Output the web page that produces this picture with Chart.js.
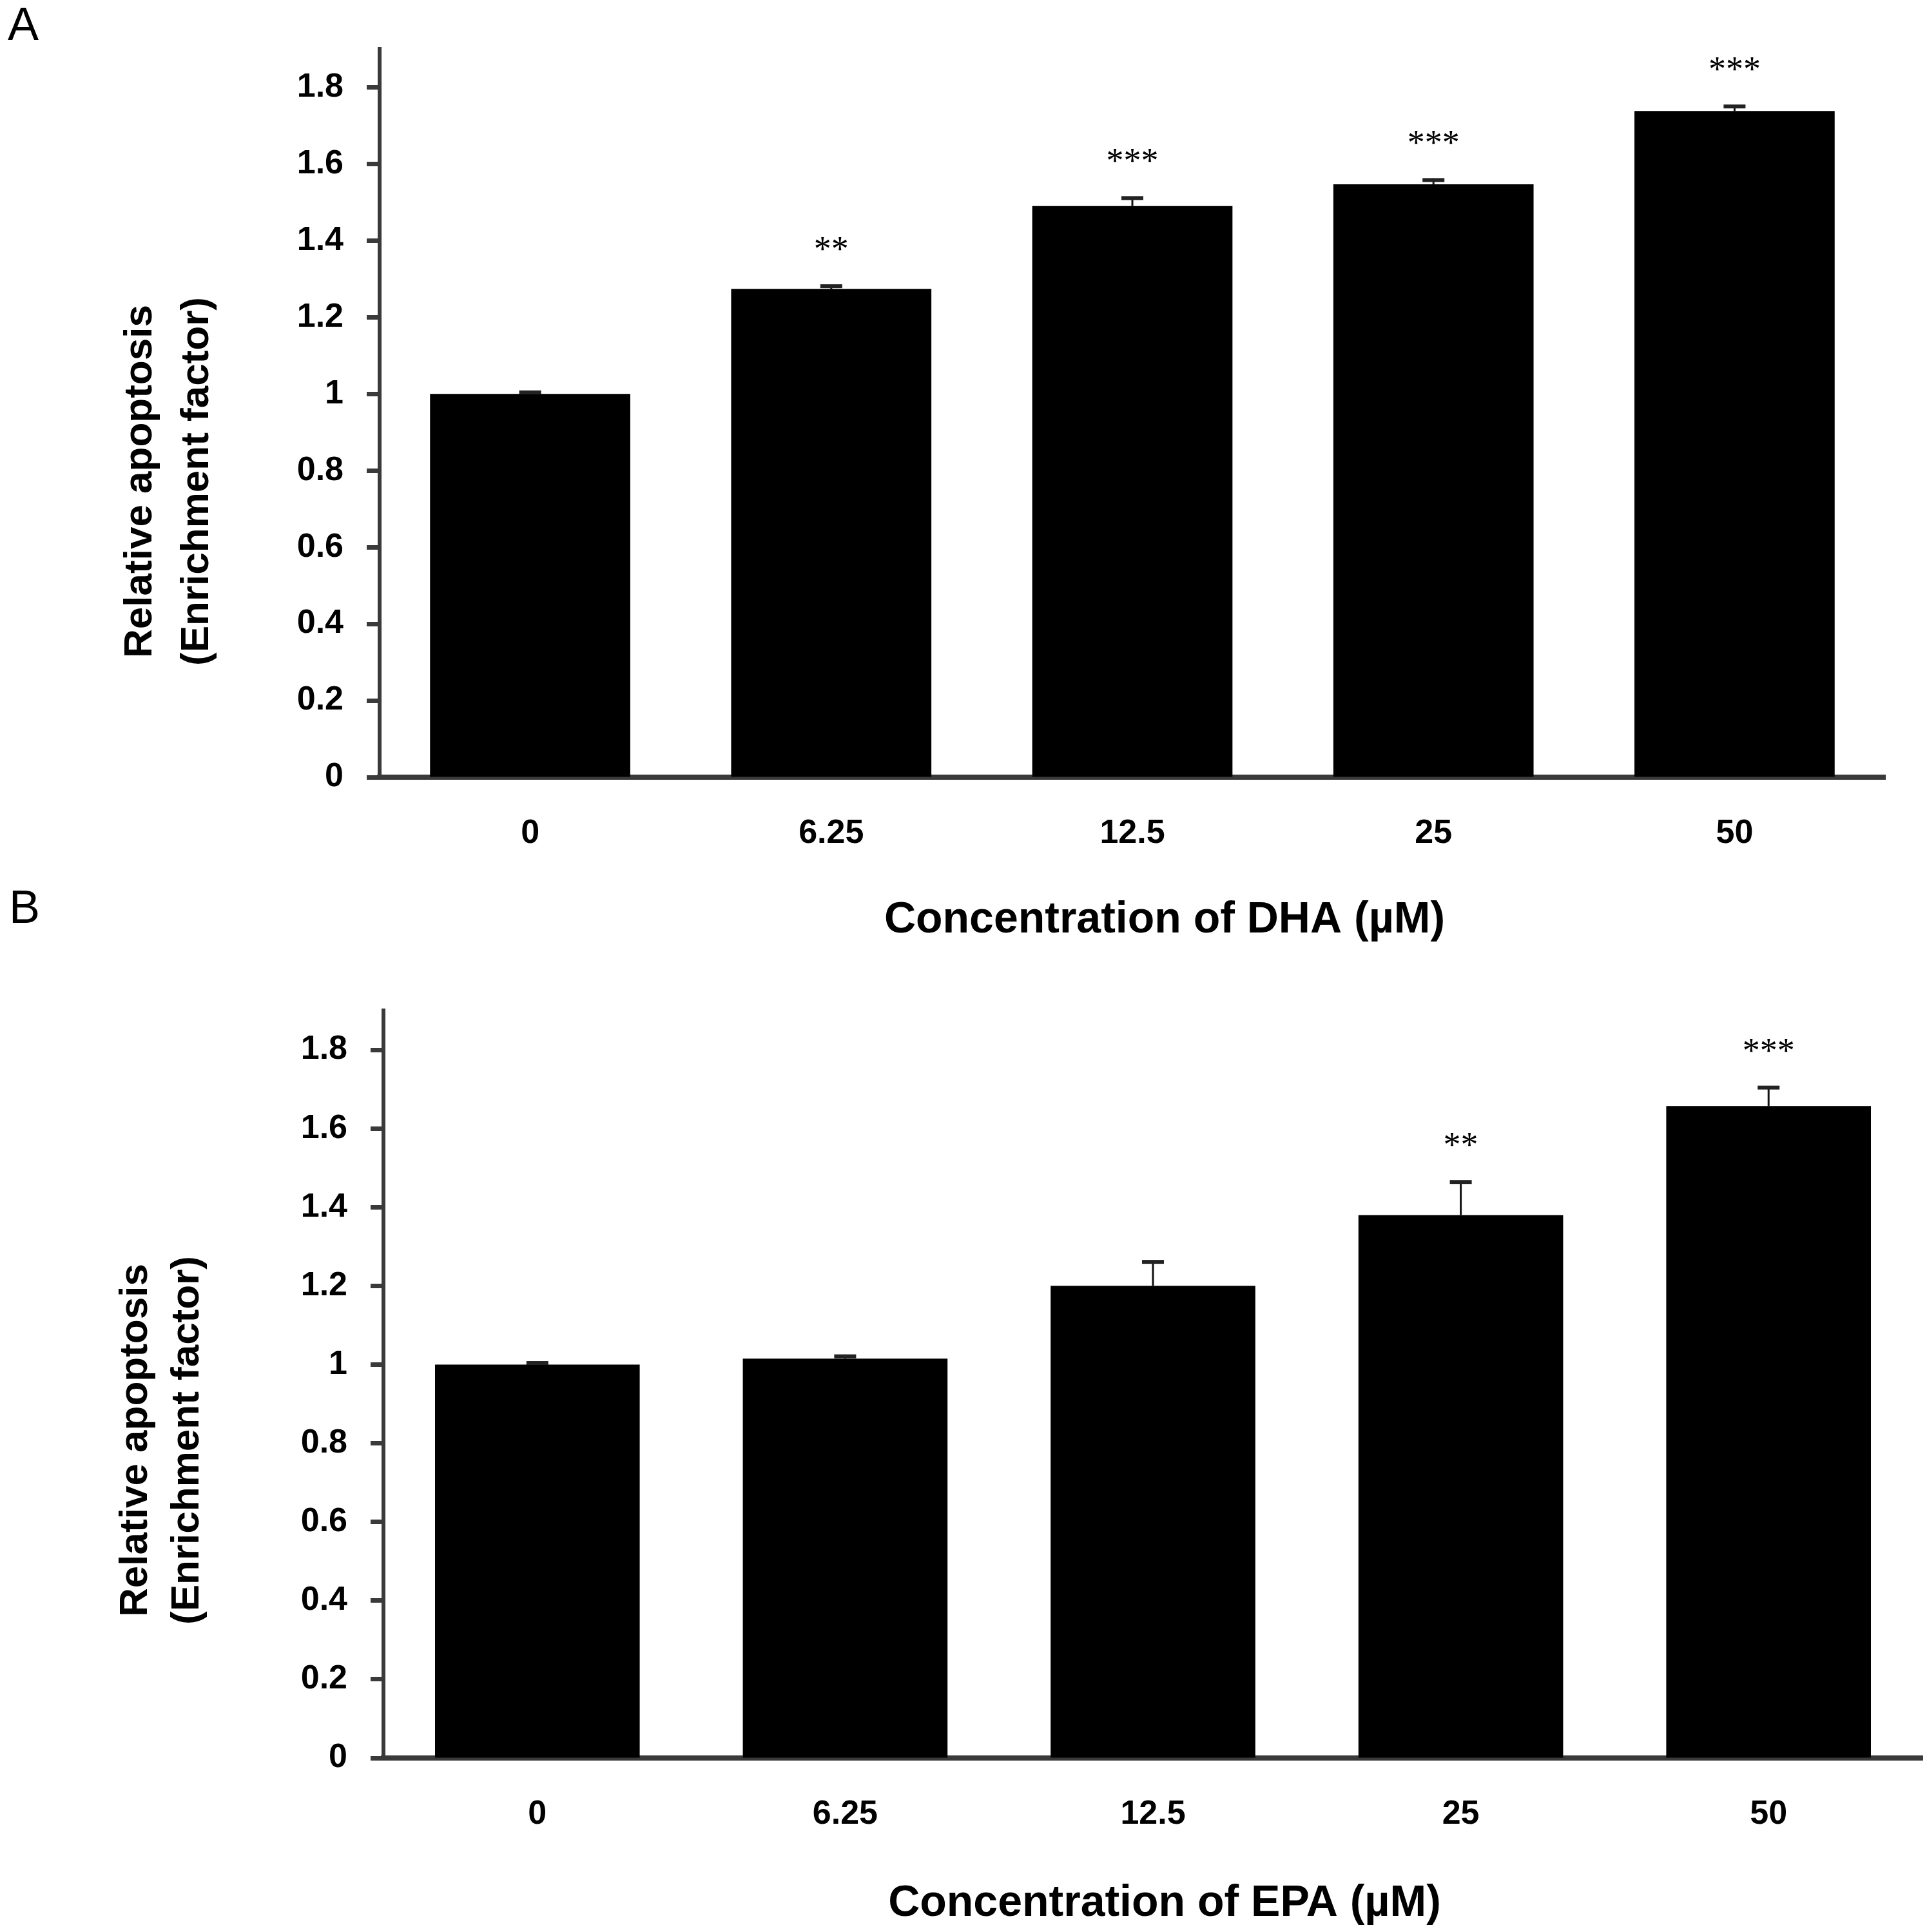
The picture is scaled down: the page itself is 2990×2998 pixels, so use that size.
<!DOCTYPE html>
<html lang="en">
<head>
    <meta charset="UTF-8">
    <title>Relative apoptosis - DHA / EPA</title>
    <script src="https://cdn.jsdelivr.net/npm/chart.js"></script>
    <style>
        body { margin: 0; background: #fff; }
        canvas { position: absolute; left: 0; top: 0; }
    </style>
</head>
<body>

<canvas id="chart-dha" width="2990" height="2998"></canvas>
<canvas id="chart-epa" width="2990" height="2998"></canvas>

<script>
    // concentrations (µM)
    const categories = ['0', '6.25', '12.5', '25', '50'];

    // panel A - DHA
    const dhaValues = [1.0, 1.274, 1.490, 1.547, 1.738];
    const dhaErrors = [0.004, 0.007, 0.021, 0.011, 0.012];
    const dhaStars = ['', '**', '***', '***', '***'];

    // panel B - EPA
    const epaValues = [1.0, 1.015, 1.200, 1.380, 1.657];
    const epaErrors = [0.004, 0.006, 0.061, 0.084, 0.047];
    const epaStars = ['', '', '', '**', '***'];

    const yMin = 0;
    const yMax = 1.9;
    const yStep = 0.2;

    const FONT = '"Liberation Sans", Arial, sans-serif';

    // error bars, significance stars, axis titles and panel letter
    const annotations = {
        id: 'annotations',
        afterDatasetsDraw(chart, args, opts) {
            const ctx = chart.ctx;
            const area = chart.chartArea;
            const yScale = chart.scales.y;
            const ds = chart.data.datasets[0];
            const meta = chart.getDatasetMeta(0);

            ctx.save();
            meta.data.forEach((bar, i) => {
                const top = yScale.getPixelForValue(ds.data[i] + ds.errors[i]);
                ctx.strokeStyle = '#111';
                ctx.lineWidth = 3;
                ctx.beginPath();
                ctx.moveTo(bar.x, bar.y);
                ctx.lineTo(bar.x, top);
                ctx.stroke();
                ctx.fillStyle = '#222';
                ctx.fillRect(bar.x - 17, top - 3, 34, 6);

                if (ds.stars[i]) {
                    ctx.fillStyle = '#000';
                    ctx.font = '54px "Liberation Serif", serif';
                    ctx.textAlign = 'center';
                    ctx.textBaseline = 'alphabetic';
                    ctx.fillText(ds.stars[i], bar.x, top - 40);
                }
            });

            // y title, two lines rotated
            ctx.fillStyle = '#000';
            ctx.font = 'bold 62px ' + FONT;
            ctx.textAlign = 'center';
            ctx.textBaseline = 'alphabetic';
            const cy = (area.top + area.bottom) / 2 + opts.yTitleDy;
            opts.yTitle.forEach((line, k) => {
                ctx.save();
                ctx.translate(area.left + opts.yTitleDx[k], cy);
                ctx.rotate(-Math.PI / 2);
                ctx.fillText(line, 0, 0);
                ctx.restore();
            });

            // x title
            ctx.font = 'bold 68px ' + FONT;
            ctx.textBaseline = 'middle';
            ctx.fillText(opts.xTitle, (area.left + area.right) / 2 + opts.xTitleDx, area.bottom + opts.xTitleDy);

            // panel letter
            ctx.font = '72px ' + FONT;
            ctx.textAlign = 'left';
            ctx.textBaseline = 'alphabetic';
            ctx.fillText(opts.letter, opts.letterX, opts.letterY);
            ctx.restore();
        }
    };

    function makeChart(id, values, errors, stars, pad, yWidth, text) {
        const ctx = document.getElementById(id).getContext('2d');
        return new Chart(ctx, {
            type: 'bar',
            data: {
                labels: categories,
                datasets: [{
                    data: values,
                    errors: errors,
                    stars: stars,
                    backgroundColor: '#000',
                    borderWidth: 0,
                    barPercentage: 0.665,
                    categoryPercentage: 1
                }]
            },
            options: {
                responsive: false,
                animation: false,
                layout: { padding: pad },
                plugins: {
                    legend: { display: false },
                    tooltip: { enabled: false },
                    annotations: text
                },
                scales: {
                    x: {
                        afterFit(scale) { scale.height = 200; },
                        grid: { display: false, drawTicks: false },
                        border: { color: '#3a3a3a', width: 8 },
                        ticks: {
                            color: '#000',
                            padding: 56,
                            font: { family: FONT, size: 52, weight: 'bold' }
                        }
                    },
                    y: {
                        min: yMin,
                        max: yMax,
                        afterFit(scale) { scale.width = yWidth; },
                        grid: { drawOnChartArea: false, tickLength: 20, tickWidth: 7, tickColor: '#3a3a3a' },
                        border: { color: '#3a3a3a', width: 6 },
                        ticks: {
                            stepSize: yStep,
                            includeBounds: false,
                            color: '#000',
                            padding: 36,
                            font: { family: FONT, size: 52, weight: 'bold' },
                            callback: v => String(parseFloat(v.toFixed(2)))
                        }
                    }
                }
            },
            plugins: [annotations]
        });
    }

    makeChart('chart-dha', dhaValues, dhaErrors, dhaStars,
        { left: 0, top: 76, right: 65, bottom: 1592 }, 589,
        {
            yTitle: ['Relative apoptosis', '(Enrichment factor)'],
            yTitleDx: [-354, -266], yTitleDy: 106,
            xTitle: 'Concentration of DHA (µM)', xTitleDx: 50, xTitleDy: 222,
            letter: 'A', letterX: 12, letterY: 62
        });

    makeChart('chart-epa', epaValues, epaErrors, epaStars,
        { left: 0, top: 1568, right: 7, bottom: 70 }, 595,
        {
            yTitle: ['Relative apoptosis', '(Enrichment factor)'],
            yTitleDx: [-367, -287], yTitleDy: 87,
            xTitle: 'Concentration of EPA (µM)', xTitleDx: 18, xTitleDy: 226,
            letter: 'B', letterX: 14, letterY: 1432
        });
</script>
</body>
</html>
